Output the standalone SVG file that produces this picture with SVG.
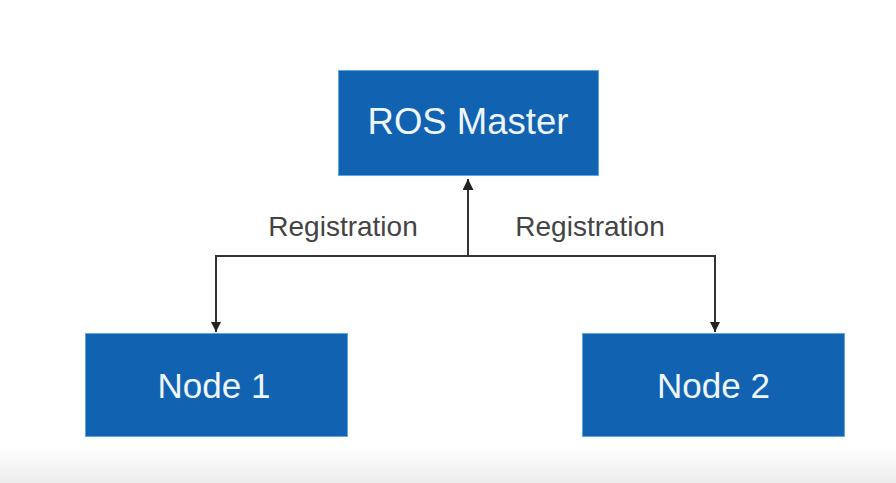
<svg xmlns="http://www.w3.org/2000/svg" width="896" height="483" viewBox="0 0 896 483">
<defs>
<linearGradient id="bg" x1="0" y1="0" x2="0" y2="1">
<stop offset="0" stop-color="#ffffff"/>
<stop offset="1" stop-color="#ececec"/>
</linearGradient>
<marker id="arr" viewBox="0 0 10 10" refX="10" refY="5" markerWidth="10" markerHeight="10" markerUnits="userSpaceOnUse" orient="auto">
<path d="M0,0 L10,5 L0,10 Z" fill="#222"/>
</marker>
<marker id="arrbig" viewBox="0 0 10 10" refX="10" refY="5" markerWidth="12" markerHeight="11" markerUnits="userSpaceOnUse" orient="auto">
<path d="M0,0 L10,5 L0,10 Z" fill="#222"/>
</marker>
</defs>
<style>
.box{fill:#1262b2;stroke:#5aa8e6;stroke-width:1}
.lbl{font-family:"Liberation Sans",Arial,sans-serif;fill:#eef7ff;text-anchor:middle;font-size:35px}
.lbl.big{font-size:36.5px}
.edge{fill:none;stroke:#333;stroke-width:2}
.elbl{font-family:"Liberation Sans",Arial,sans-serif;fill:#444;font-size:28px;text-anchor:middle}
</style>
<rect x="0" y="0" width="896" height="483" fill="#ffffff"/>
<rect x="0" y="445" width="896" height="38" fill="url(#bg)"/>
<g id="connectors">
<path class="edge" d="M468,256 L468,179" stroke-width="3" marker-end="url(#arrbig)"/>
<path class="edge" d="M468,256 L216,256 L216,332" marker-end="url(#arr)"/>
<path class="edge" d="M468,256 L715,256 L715,332" marker-end="url(#arr)"/>
<text class="elbl" x="343" y="236">Registration</text>
<text class="elbl" x="590" y="236">Registration</text>
</g>
<g id="ros-master">
<rect class="box" x="338.5" y="70.5" width="260" height="105"/>
<text class="lbl big" x="468" y="134">ROS Master</text>
</g>
<g id="node1">
<rect class="box" x="85.5" y="333.5" width="262" height="103"/>
<text class="lbl" x="214" y="398">Node 1</text>
</g>
<g id="node2">
<rect class="box" x="582.5" y="333.5" width="262" height="103"/>
<text class="lbl" x="713.5" y="398">Node 2</text>
</g>
</svg>
